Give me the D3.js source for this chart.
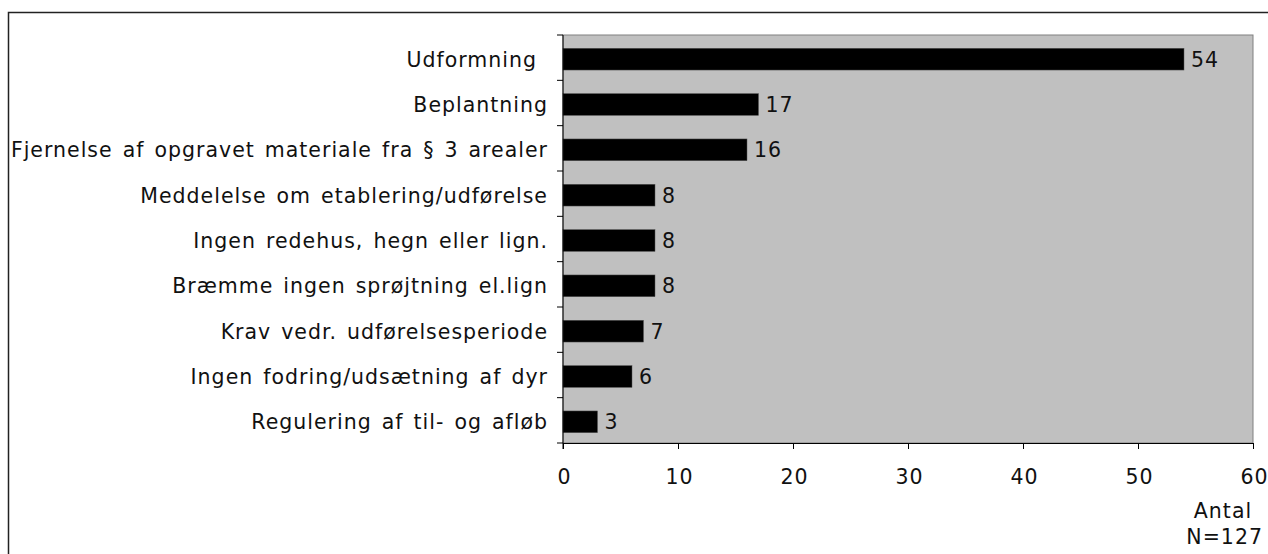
<!DOCTYPE html>
<html>
<head>
<meta charset="utf-8">
<script src="https://cdn.jsdelivr.net/npm/d3@7"></script>
<style>
  body { margin: 0; background: #fff; }
  svg text { font-family: "DejaVu Sans", Verdana, sans-serif; font-size: 20.5px; letter-spacing: 1px; word-spacing: 2.5px; fill: #111; }
</style>
</head>
<body>
<div id="chart"></div>
<script>
// data
const categories = [
  "Udformning",
  "Beplantning",
  "Fjernelse af opgravet materiale fra § 3 arealer",
  "Meddelelse om etablering/udførelse",
  "Ingen redehus, hegn eller lign.",
  "Bræmme ingen sprøjtning el.lign",
  "Krav vedr. udførelsesperiode",
  "Ingen fodring/udsætning af dyr",
  "Regulering af til- og afløb"
];
const counts = [54, 17, 16, 8, 8, 8, 7, 6, 3];
const xTicks = [0, 10, 20, 30, 40, 50, 60];

const W = 1268, H = 554;
const margin = { top: 35, left: 563, right: 15, bottom: 111 };
const width = W - margin.left - margin.right;
const height = H - margin.top - margin.bottom;

const svg = d3.select("#chart").append("svg")
  .attr("width", W)
  .attr("height", H);

// outer frame (runs off the right and bottom edges)
svg.append("rect")
  .attr("x", 8.5).attr("y", 12.5)
  .attr("width", W + 20).attr("height", H + 20)
  .attr("fill", "none")
  .attr("stroke", "#222")
  .attr("stroke-width", 1.5);

const g = svg.append("g")
  .attr("transform", `translate(${margin.left},${margin.top})`);

const x = d3.scaleLinear().domain([0, 60]).range([0, width]);
const y = d3.scaleBand().domain(categories).range([0, height]).paddingInner(0.52).paddingOuter(0.26);
const shift = 1.5; // bars sit a little below the band centre

// plot area
g.append("rect")
  .attr("width", width).attr("height", height)
  .attr("fill", "#c0c0c0")
  .attr("stroke", "#808080");

// bars
g.selectAll(".bar")
  .data(counts)
  .join("rect")
  .attr("class", "bar")
  .attr("x", 0)
  .attr("y", (d, i) => y(categories[i]) + shift)
  .attr("width", d => x(d))
  .attr("height", y.bandwidth())
  .attr("fill", "#000")
  .attr("stroke", "#555")
  .attr("stroke-width", 0.5);

// value labels
g.selectAll(".val")
  .data(counts)
  .join("text")
  .attr("class", "val")
  .attr("x", d => x(d) + 7)
  .attr("y", (d, i) => y(categories[i]) + y.bandwidth() / 2 + shift)
  .attr("dy", "0.36em")
  .text(d => d);

// y axis: ticks between categories
const step = height / categories.length;
const yAxis = g.append("g");
yAxis.append("line")
  .attr("x1", 0).attr("x2", 0).attr("y1", 0).attr("y2", height + 6)
  .attr("stroke", "#000");
yAxis.selectAll(".ytick")
  .data(d3.range(categories.length + 1))
  .join("line")
  .attr("x1", -6).attr("x2", 0)
  .attr("y1", i => i * step).attr("y2", i => i * step)
  .attr("stroke", "#000");
yAxis.selectAll(".ylab")
  .data(categories)
  .join("text")
  .attr("x", (d, i) => i === 0 ? -26 : -15)
  .attr("y", d => y(d) + y.bandwidth() / 2 + shift)
  .attr("dy", "0.36em")
  .attr("text-anchor", "end")
  .text(d => d);

// x axis
const xAxis = g.append("g")
  .attr("transform", `translate(0,${height})`)
  .call(d3.axisBottom(x).tickValues(xTicks).tickSize(6).tickPadding(20));
xAxis.select(".domain").attr("stroke", "#000");
xAxis.selectAll("text")
  .style("font-family", '"DejaVu Sans", Verdana, sans-serif')
  .style("font-size", "20.5px")
  .attr("dx", "0.05em");

svg.append("text")
  .attr("x", 1223).attr("y", 518)
  .attr("text-anchor", "middle")
  .text("Antal");
svg.append("text")
  .attr("x", 1263).attr("y", 544)
  .attr("text-anchor", "end")
  .text("N=127");
</script>
</body>
</html>
